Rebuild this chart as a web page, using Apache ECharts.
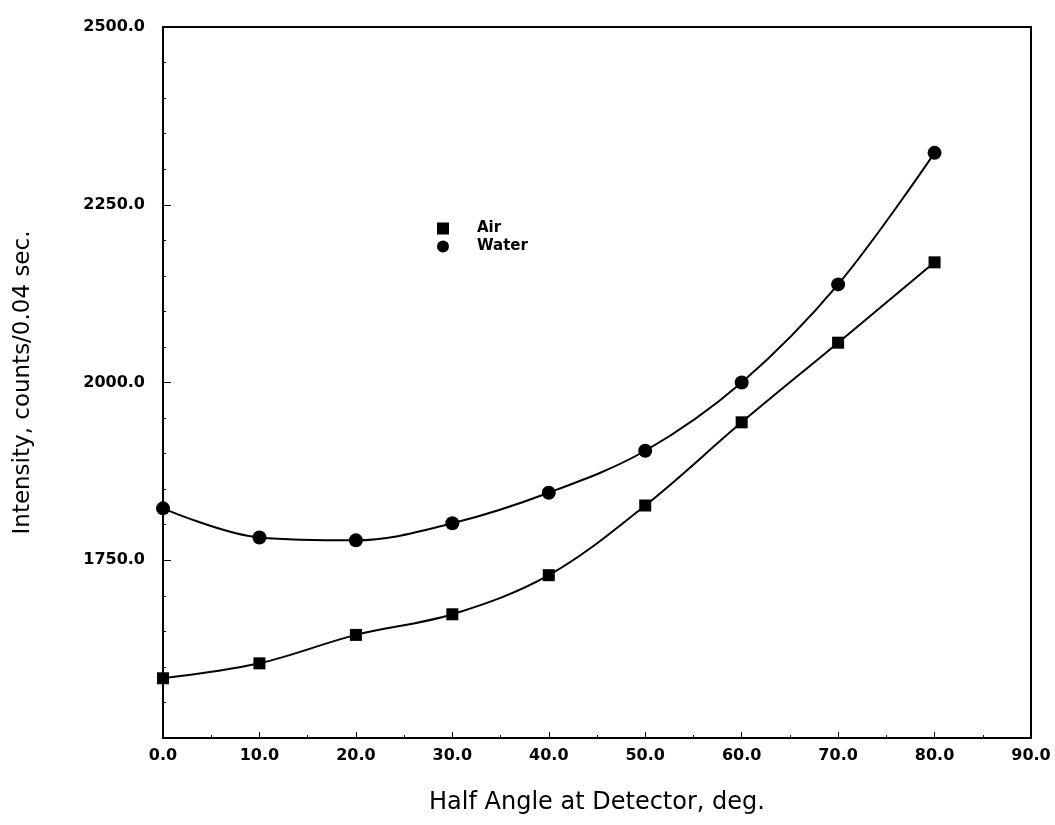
<!DOCTYPE html>
<html>
<head>
<meta charset="utf-8">
<script src="https://cdn.jsdelivr.net/npm/echarts@6/dist/echarts.min.js"></script>
<style>
  html, body { margin: 0; padding: 0; background: #fff; }
  #chart { width: 1055px; height: 825px; }
</style>
</head>
<body>
<div id="chart"></div>
<script>
// 数据
const angles = [0, 10, 20, 30, 40, 50, 60, 70, 80];
const air = [1584, 1605, 1645, 1674, 1729, 1827, 1944, 2056, 2169];
const water = [1823, 1782, 1778, 1802, 1845, 1904, 2000, 2138, 2323];

const font = "'DejaVu Sans', 'Liberation Sans', Arial, sans-serif";
const chart = echarts.init(document.getElementById("chart"));

function pairs(ys) {
  return angles.map((x, i) => [x, ys[i]]);
}

chart.setOption({
  animation: false,
  backgroundColor: "#fff",
  grid: {
    left: 163, right: 24, top: 27, bottom: 87,
    show: true, borderColor: "#000", borderWidth: 2
  },
  legend: {
    left: 432, top: 216, orient: "vertical", itemGap: 3,
    itemWidth: 12, itemHeight: 12,
    textStyle: {
      fontFamily: font, fontSize: 15, fontWeight: "bold", color: "#000",
      padding: [0, 0, 0, 23]
    },
    data: [
      { name: "Air", icon: "rect", itemStyle: { color: "#000" } },
      { name: "Water", icon: "circle", itemStyle: { color: "#000" } }
    ]
  },
  xAxis: {
    type: "value", min: 0, max: 90, interval: 10,
    name: "Half Angle at Detector, deg.",
    nameLocation: "middle", nameGap: 53,
    nameTextStyle: { fontFamily: font, fontSize: 24, color: "#000" },
    axisLine: { lineStyle: { color: "#000", width: 2 } },
    axisTick: { inside: true, length: 6, lineStyle: { color: "#000" } },
    minorTick: { show: true, splitNumber: 2, length: 3, lineStyle: { color: "#000" } },
    axisLabel: {
      fontFamily: font, fontSize: 16, fontWeight: "bold", color: "#000", margin: 10,
      formatter: v => v.toFixed(1)
    },
    splitLine: { show: false }
  },
  yAxis: {
    type: "value", min: 1500, max: 2500, interval: 250,
    name: "Intensity, counts/0.04 sec.",
    nameLocation: "middle", nameGap: 128, nameRotate: 90,
    nameTextStyle: { fontFamily: font, fontSize: 23, color: "#000" },
    axisLine: { lineStyle: { color: "#000", width: 2 } },
    axisTick: { inside: true, length: 8, lineStyle: { color: "#000" } },
    minorTick: { show: true, splitNumber: 5, length: 3, lineStyle: { color: "#000" } },
    axisLabel: {
      fontFamily: font, fontSize: 16, fontWeight: "bold", color: "#000", margin: 18,
      formatter: v => (v === 1500 ? "" : v.toFixed(1))
    },
    splitLine: { show: false }
  },
  series: [
    {
      name: "Air", type: "line", data: pairs(air), smooth: 0.35,
      symbol: "rect", symbolSize: 12,
      itemStyle: { color: "#000" },
      lineStyle: { color: "#000", width: 2 }
    },
    {
      name: "Water", type: "line", data: pairs(water), smooth: 0.35,
      symbol: "circle", symbolSize: 14,
      itemStyle: { color: "#000" },
      lineStyle: { color: "#000", width: 2 }
    }
  ]
});
</script>
</body>
</html>
